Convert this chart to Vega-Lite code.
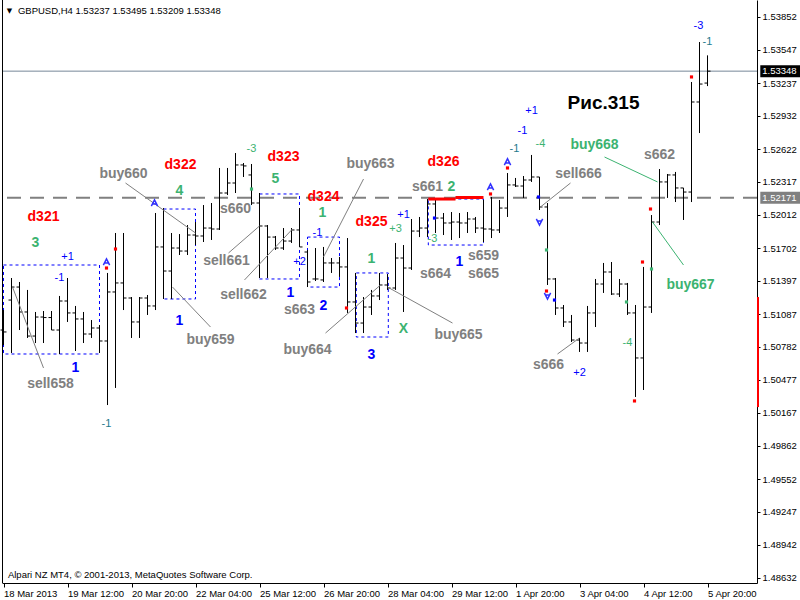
{
  "$schema": "https://vega.github.io/schema/vega-lite/v6.json",
  "width": 755,
  "height": 583,
  "autosize": {"type": "none"},
  "padding": {"left": 2, "top": 0, "right": 43, "bottom": 17},
  "background": "white",
  "config": {"view": {"stroke": null}, "font": "Liberation Sans"},
  "resolve": {"axis": {"x": "independent", "y": "independent"}},
  "datasets": {
    "bars": [
      {"i":0,"o":1.50939,"h":1.51125,"l":1.50800,"c":1.50921},
      {"i":1,"o":1.51218,"h":1.51423,"l":1.50725,"c":1.51339},
      {"i":2,"o":1.51339,"h":1.51386,"l":1.50939,"c":1.51107},
      {"i":3,"o":1.51107,"h":1.51312,"l":1.50865,"c":1.50883},
      {"i":4,"o":1.50883,"h":1.51107,"l":1.50818,"c":1.51060},
      {"i":5,"o":1.51060,"h":1.51116,"l":1.50818,"c":1.51055},
      {"i":6,"o":1.51055,"h":1.51116,"l":1.50939,"c":1.50939},
      {"i":7,"o":1.50939,"h":1.51256,"l":1.50716,"c":1.51209},
      {"i":8,"o":1.51209,"h":1.51423,"l":1.51014,"c":1.51098},
      {"i":9,"o":1.51098,"h":1.51163,"l":1.50744,"c":1.51042},
      {"i":10,"o":1.51042,"h":1.51107,"l":1.50818,"c":1.50902},
      {"i":11,"o":1.50902,"h":1.51032,"l":1.50865,"c":1.50958},
      {"i":12,"o":1.50958,"h":1.50986,"l":1.50725,"c":1.50837},
      {"i":13,"o":1.50837,"h":1.51470,"l":1.50241,"c":1.51293},
      {"i":14,"o":1.51293,"h":1.51842,"l":1.50400,"c":1.51377},
      {"i":15,"o":1.51377,"h":1.51842,"l":1.51125,"c":1.51237},
      {"i":16,"o":1.51237,"h":1.51246,"l":1.50865,"c":1.51014},
      {"i":17,"o":1.51014,"h":1.51246,"l":1.50865,"c":1.51237},
      {"i":18,"o":1.51237,"h":1.51265,"l":1.51079,"c":1.51163},
      {"i":19,"o":1.51163,"h":1.52028,"l":1.51125,"c":1.51712},
      {"i":20,"o":1.51712,"h":1.52074,"l":1.51228,"c":1.51488},
      {"i":21,"o":1.51488,"h":1.51842,"l":1.51228,"c":1.51702},
      {"i":22,"o":1.51702,"h":1.51832,"l":1.51637,"c":1.51674},
      {"i":23,"o":1.51674,"h":1.51916,"l":1.51637,"c":1.51823},
      {"i":24,"o":1.51823,"h":1.51944,"l":1.51730,"c":1.51814},
      {"i":25,"o":1.51814,"h":1.52102,"l":1.51758,"c":1.51888},
      {"i":26,"o":1.51888,"h":1.52121,"l":1.51777,"c":1.51879},
      {"i":27,"o":1.51879,"h":1.52447,"l":1.51870,"c":1.52214},
      {"i":28,"o":1.52214,"h":1.52447,"l":1.52195,"c":1.52307},
      {"i":29,"o":1.52307,"h":1.52586,"l":1.52214,"c":1.52475},
      {"i":30,"o":1.52475,"h":1.52493,"l":1.52363,"c":1.52466},
      {"i":31,"o":1.52382,"h":1.52484,"l":1.52102,"c":1.52121},
      {"i":32,"o":1.52121,"h":1.52214,"l":1.51423,"c":1.51907},
      {"i":33,"o":1.51907,"h":1.51916,"l":1.51423,"c":1.51804},
      {"i":34,"o":1.51804,"h":1.51814,"l":1.51684,"c":1.51702},
      {"i":35,"o":1.51702,"h":1.51888,"l":1.51684,"c":1.51767},
      {"i":36,"o":1.51767,"h":1.51888,"l":1.51749,"c":1.51870},
      {"i":37,"o":1.51870,"h":1.52074,"l":1.51712,"c":1.51712},
      {"i":38,"o":1.51665,"h":1.51684,"l":1.51339,"c":1.51386},
      {"i":39,"o":1.51414,"h":1.51702,"l":1.51395,"c":1.51414},
      {"i":40,"o":1.51405,"h":1.51712,"l":1.51386,"c":1.51563},
      {"i":41,"o":1.51563,"h":1.51609,"l":1.51470,"c":1.51563},
      {"i":42,"o":1.51563,"h":1.51619,"l":1.51433,"c":1.51526},
      {"i":43,"o":1.51526,"h":1.51795,"l":1.51098,"c":1.51200},
      {"i":44,"o":1.51200,"h":1.51470,"l":1.50911,"c":1.51004},
      {"i":45,"o":1.51004,"h":1.51246,"l":1.50911,"c":1.51153},
      {"i":46,"o":1.51153,"h":1.51312,"l":1.51079,"c":1.51256},
      {"i":47,"o":1.51256,"h":1.51470,"l":1.51218,"c":1.51358},
      {"i":48,"o":1.51358,"h":1.51460,"l":1.51312,"c":1.51330},
      {"i":49,"o":1.51330,"h":1.51749,"l":1.51312,"c":1.51609},
      {"i":50,"o":1.51609,"h":1.51730,"l":1.51107,"c":1.51516},
      {"i":51,"o":1.51516,"h":1.51972,"l":1.51498,"c":1.51860},
      {"i":52,"o":1.51860,"h":1.51991,"l":1.51804,"c":1.51888},
      {"i":53,"o":1.51888,"h":1.52158,"l":1.51804,"c":1.52112},
      {"i":54,"o":1.52112,"h":1.52158,"l":1.51842,"c":1.51981},
      {"i":55,"o":1.51981,"h":1.52028,"l":1.51823,"c":1.51935},
      {"i":56,"o":1.51935,"h":1.52037,"l":1.51777,"c":1.51944},
      {"i":57,"o":1.51944,"h":1.52028,"l":1.51795,"c":1.51935},
      {"i":58,"o":1.51935,"h":1.52037,"l":1.51842,"c":1.51972},
      {"i":59,"o":1.51972,"h":1.51991,"l":1.51842,"c":1.51888},
      {"i":60,"o":1.51888,"h":1.52149,"l":1.51758,"c":1.51879},
      {"i":61,"o":1.51879,"h":1.52177,"l":1.51795,"c":1.51870},
      {"i":62,"o":1.51870,"h":1.52149,"l":1.51842,"c":1.52074},
      {"i":63,"o":1.52074,"h":1.52400,"l":1.51991,"c":1.52289},
      {"i":64,"o":1.52289,"h":1.52354,"l":1.52270,"c":1.52279},
      {"i":65,"o":1.52279,"h":1.52372,"l":1.52168,"c":1.52335},
      {"i":66,"o":1.52335,"h":1.52568,"l":1.52317,"c":1.52363},
      {"i":67,"o":1.52363,"h":1.52363,"l":1.52056,"c":1.52084},
      {"i":68,"o":1.52084,"h":1.52121,"l":1.51358,"c":1.51414},
      {"i":69,"o":1.51414,"h":1.51423,"l":1.51079,"c":1.51144},
      {"i":70,"o":1.51144,"h":1.51172,"l":1.50967,"c":1.51014},
      {"i":71,"o":1.51014,"h":1.51079,"l":1.50828,"c":1.50846},
      {"i":72,"o":1.50846,"h":1.50865,"l":1.50735,"c":1.50818},
      {"i":73,"o":1.50818,"h":1.51163,"l":1.50735,"c":1.51098},
      {"i":74,"o":1.51098,"h":1.51414,"l":1.50967,"c":1.51367},
      {"i":75,"o":1.51367,"h":1.51563,"l":1.51284,"c":1.51479},
      {"i":76,"o":1.51479,"h":1.51572,"l":1.51265,"c":1.51274},
      {"i":77,"o":1.51274,"h":1.51414,"l":1.51246,"c":1.51367},
      {"i":78,"o":1.51367,"h":1.51377,"l":1.51079,"c":1.51098},
      {"i":79,"o":1.51098,"h":1.51172,"l":1.50316,"c":1.50679},
      {"i":80,"o":1.50679,"h":1.51526,"l":1.50381,"c":1.51153},
      {"i":81,"o":1.51153,"h":1.52009,"l":1.51098,"c":1.51944},
      {"i":82,"o":1.51944,"h":1.52437,"l":1.51916,"c":1.52317},
      {"i":83,"o":1.52317,"h":1.52391,"l":1.52168,"c":1.52382},
      {"i":84,"o":1.52382,"h":1.52410,"l":1.52130,"c":1.52261},
      {"i":85,"o":1.52261,"h":1.52261,"l":1.51963,"c":1.52223},
      {"i":86,"o":1.52223,"h":1.53247,"l":1.52130,"c":1.53061},
      {"i":87,"o":1.53061,"h":1.53619,"l":1.52772,"c":1.53228},
      {"i":88,"o":1.53237,"h":1.53495,"l":1.53209,"c":1.53348}
    ],
    "big": [
      {"i":5,"p":1.51991,"t":"d321","k":"red"},
      {"i":22.125,"p":1.52475,"t":"d322","k":"red"},
      {"i":35,"p":1.52549,"t":"d323","k":"red"},
      {"i":40,"p":1.52177,"t":"d324","k":"red"},
      {"i":46,"p":1.51944,"t":"d325","k":"red"},
      {"i":55,"p":1.52503,"t":"d326","k":"red"},
      {"i":4,"p":1.51749,"t":"3","k":"green"},
      {"i":22,"p":1.52233,"t":"4","k":"green"},
      {"i":34,"p":1.52344,"t":"5","k":"green"},
      {"i":39.875,"p":1.52028,"t":"1","k":"green"},
      {"i":46,"p":1.51600,"t":"1","k":"green"},
      {"i":56,"p":1.52270,"t":"2","k":"green"},
      {"i":50,"p":1.50949,"t":"X","k":"green"},
      {"i":9,"p":1.50586,"t":"1","k":"blue"},
      {"i":22,"p":1.51023,"t":"1","k":"blue"},
      {"i":35.875,"p":1.51284,"t":"1","k":"blue"},
      {"i":40,"p":1.51163,"t":"2","k":"blue"},
      {"i":46,"p":1.50707,"t":"3","k":"blue"},
      {"i":57,"p":1.51572,"t":"1","k":"blue"},
      {"i":5.875,"p":1.50437,"t":"sell658","k":"grey"},
      {"i":25.875,"p":1.50846,"t":"buy659","k":"grey"},
      {"i":15,"p":1.52391,"t":"buy660","k":"grey"},
      {"i":29,"p":1.52065,"t":"s660","k":"grey"},
      {"i":27.875,"p":1.51581,"t":"sell661","k":"grey"},
      {"i":30,"p":1.51265,"t":"sell662","k":"grey"},
      {"i":45.875,"p":1.52484,"t":"buy663","k":"grey"},
      {"i":37,"p":1.51125,"t":"s663","k":"grey"},
      {"i":38,"p":1.50753,"t":"buy664","k":"grey"},
      {"i":56.875,"p":1.50893,"t":"buy665","k":"grey"},
      {"i":53,"p":1.52270,"t":"s661","k":"grey"},
      {"i":54,"p":1.51460,"t":"s664","k":"grey"},
      {"i":60,"p":1.51628,"t":"s659","k":"grey"},
      {"i":60,"p":1.51460,"t":"s665","k":"grey"},
      {"i":71.875,"p":1.52391,"t":"sell666","k":"grey"},
      {"i":68.125,"p":1.50614,"t":"s666","k":"grey"},
      {"i":82,"p":1.52568,"t":"s662","k":"grey"},
      {"i":73.875,"p":1.52661,"t":"buy668","k":"sea"},
      {"i":85.875,"p":1.51358,"t":"buy667","k":"sea"}
    ],
    "small": [
      {"i":8,"p":1.51619,"t":"+1","k":"blue"},
      {"i":7,"p":1.51423,"t":"-1","k":"blue"},
      {"i":12.875,"p":1.50065,"t":"-1","k":"teal"},
      {"i":31,"p":1.52624,"t":"-3","k":"green"},
      {"i":39.25,"p":1.51842,"t":"-1","k":"blue"},
      {"i":37,"p":1.51572,"t":"+2","k":"blue"},
      {"i":50,"p":1.52009,"t":"+1","k":"blue"},
      {"i":49,"p":1.51879,"t":"+3","k":"green"},
      {"i":53.625,"p":1.51786,"t":"-3","k":"green"},
      {"i":66,"p":1.52977,"t":"+1","k":"blue"},
      {"i":64.875,"p":1.52791,"t":"-1","k":"blue"},
      {"i":63.875,"p":1.52624,"t":"-1","k":"teal"},
      {"i":67.125,"p":1.52670,"t":"-4","k":"green"},
      {"i":72,"p":1.50539,"t":"+2","k":"blue"},
      {"i":78,"p":1.50818,"t":"-4","k":"green"},
      {"i":86.875,"p":1.53768,"t":"-3","k":"blue"},
      {"i":88,"p":1.53619,"t":"-1","k":"teal"}
    ],
    "links": [
      {"i1":1.125,"p1":1.51339,"i2":5,"p2":1.50586,"k":"grey"},
      {"i1":21.125,"p1":1.51339,"i2":25.875,"p2":1.50967,"k":"grey"},
      {"i1":15.25,"p1":1.52307,"i2":24,"p2":1.51842,"k":"grey"},
      {"i1":28.125,"p1":1.51656,"i2":32,"p2":1.51907,"k":"grey"},
      {"i1":30.125,"p1":1.51405,"i2":36.125,"p2":1.51879,"k":"grey"},
      {"i1":45,"p1":1.52344,"i2":40,"p2":1.51619,"k":"grey"},
      {"i1":40.25,"p1":1.50911,"i2":47.125,"p2":1.51358,"k":"grey"},
      {"i1":48,"p1":1.51339,"i2":56.125,"p2":1.51004,"k":"grey"},
      {"i1":70.875,"p1":1.52307,"i2":67.125,"p2":1.52084,"k":"grey"},
      {"i1":69.25,"p1":1.50716,"i2":72,"p2":1.50865,"k":"grey"},
      {"i1":75.125,"p1":1.52549,"i2":81.75,"p2":1.52317,"k":"sea"},
      {"i1":81.125,"p1":1.51944,"i2":85,"p2":1.51544,"k":"sea"}
    ],
    "boxes": [
      {"i1":0,"i2":12,"p1":1.51544,"p2":1.50716},
      {"i1":20,"i2":24,"p1":1.52065,"p2":1.51228},
      {"i1":32,"i2":37,"p1":1.52205,"p2":1.51414},
      {"i1":38,"i2":42,"p1":1.51804,"p2":1.51339},
      {"i1":44.1,"i2":48.1,"p1":1.51470,"p2":1.50874},
      {"i1":53.1,"i2":60,"p1":1.52158,"p2":1.51730}
    ],
    "redline": [
      {"i1":53.1,"i2":56.5,"p":1.52158},
      {"i1":56.5,"i2":60,"p":1.52172}
    ],
    "dots": [
      {"i":14,"p":1.51693,"k":"red"},
      {"i":12.875,"p":1.51516,"k":"red"},
      {"i":42.875,"p":1.51144,"k":"red"},
      {"i":60.875,"p":1.52205,"k":"red"},
      {"i":63,"p":1.52447,"k":"red"},
      {"i":67.875,"p":1.51302,"k":"red"},
      {"i":79.875,"p":1.51572,"k":"red"},
      {"i":78.875,"p":1.50279,"k":"red"},
      {"i":80.875,"p":1.52065,"k":"red"},
      {"i":86,"p":1.53294,"k":"red"},
      {"i":53.875,"p":1.51981,"k":"blue"},
      {"i":66.875,"p":1.52177,"k":"blue"},
      {"i":68.875,"p":1.51218,"k":"blue"},
      {"i":31,"p":1.52251,"k":"green"},
      {"i":67.875,"p":1.51684,"k":"green"},
      {"i":77.875,"p":1.51200,"k":"green"},
      {"i":81,"p":1.51507,"k":"green"}
    ],
    "arrows": [
      {"i":12.875,"p":1.51572,"d":"up"},
      {"i":18.875,"p":1.52121,"d":"up"},
      {"i":60.875,"p":1.52270,"d":"up"},
      {"i":63,"p":1.52503,"d":"up"},
      {"i":67,"p":1.51944,"d":"down"},
      {"i":68,"p":1.51256,"d":"down"}
    ],
    "last": [{"p":1.53348,"t":"1.53348"}],
    "level": [{"p":1.52171,"t":"1.52171"}],
    "range": [{"p1":1.51246,"p2":1.50222}]
  },
  "layer": [
    {
      "data": {"name": "level"},
      "mark": {"type": "rule", "color": "#808080", "strokeWidth": 2, "strokeDash": [14, 9]},
      "encoding": {
        "y": {"field": "p", "type": "quantitative", "scale": {"domain": [1.48585, 1.5401], "nice": false, "zero": false}, "axis": null}
      }
    },
    {
      "data": {"name": "last"},
      "mark": {"type": "rule", "color": "#778899", "strokeWidth": 1},
      "encoding": {
        "y": {"field": "p", "type": "quantitative", "scale": {"domain": [1.48585, 1.5401], "nice": false, "zero": false}, "axis": null}
      }
    },
    {
      "data": {"name": "boxes"},
      "mark": {"type": "rect", "fill": null, "fillOpacity": 0, "stroke": "#0000FF", "strokeWidth": 1, "strokeDash": [3, 3]},
      "encoding": {
        "x": {"field": "i1", "type": "quantitative", "scale": {"domain": [-0.1875, 94.1875], "nice": false, "zero": false}, "axis": null},
        "x2": {"field": "i2"},
        "y": {"field": "p1", "type": "quantitative", "scale": {"domain": [1.48585, 1.5401], "nice": false, "zero": false}, "axis": null},
        "y2": {"field": "p2"}
      }
    },
    {
      "data": {"name": "bars"},
      "mark": {"type": "rule", "color": "#000000", "strokeWidth": 1},
      "encoding": {
        "x": {
          "field": "i", "type": "quantitative",
          "scale": {"domain": [-0.1875, 94.1875], "nice": false, "zero": false},
          "axis": {
            "orient": "bottom", "title": null, "grid": false,
            "values": [0, 8, 16, 24, 32, 40, 48, 56, 64, 72, 80, 88],
            "labelExpr": "['18 Mar 2013','19 Mar 12:00','20 Mar 20:00','22 Mar 04:00','25 Mar 12:00','26 Mar 20:00','28 Mar 04:00','29 Mar 12:00','1 Apr 20:00','3 Apr 04:00','4 Apr 12:00','5 Apr 20:00'][round(datum.value/8)]",
            "domainColor": "#000000", "tickColor": "#000000", "tickSize": 4,
            "labelAlign": "left", "labelBaseline": "top", "labelPadding": 1, "labelOffset": 0,
            "labelFont": "Liberation Sans", "labelFontSize": 9.5, "labelColor": "#000000",
            "labelOverlap": false, "labelBound": false, "labelFlush": false
          }
        },
        "y": {
          "field": "h", "type": "quantitative",
          "scale": {"domain": [1.48585, 1.5401], "nice": false, "zero": false},
          "axis": {
            "orient": "right", "title": null, "grid": false,
            "values": [1.53852, 1.53547, 1.53237, 1.52932, 1.52622, 1.52317, 1.52012, 1.51702, 1.51397, 1.51087, 1.50782, 1.50477, 1.50167, 1.49862, 1.49552, 1.49247, 1.48942, 1.48632],
            "format": ".5f",
            "domainColor": "#000000", "tickColor": "#000000", "tickSize": 3, "labelPadding": 2,
            "labelFont": "Liberation Sans", "labelFontSize": 9.5, "labelColor": "#000000",
            "labelOverlap": false, "labelBound": false, "labelFlush": false
          }
        },
        "y2": {"field": "l"}
      }
    },
    {
      "data": {"name": "bars"},
      "mark": {"type": "rule", "color": "#000000", "strokeWidth": 1, "xOffset": -3, "x2Offset": 0},
      "encoding": {
        "x": {"field": "i", "type": "quantitative", "scale": {"domain": [-0.1875, 94.1875], "nice": false, "zero": false}, "axis": null},
        "x2": {"field": "i"},
        "y": {"field": "o", "type": "quantitative", "scale": {"domain": [1.48585, 1.5401], "nice": false, "zero": false}, "axis": null}
      }
    },
    {
      "data": {"name": "bars"},
      "mark": {"type": "rule", "color": "#000000", "strokeWidth": 1, "xOffset": 0, "x2Offset": 3},
      "encoding": {
        "x": {"field": "i", "type": "quantitative", "scale": {"domain": [-0.1875, 94.1875], "nice": false, "zero": false}, "axis": null},
        "x2": {"field": "i"},
        "y": {"field": "c", "type": "quantitative", "scale": {"domain": [1.48585, 1.5401], "nice": false, "zero": false}, "axis": null}
      }
    },
    {
      "data": {"name": "links"},
      "mark": {"type": "rule", "strokeWidth": 1},
      "encoding": {
        "x": {"field": "i1", "type": "quantitative", "scale": {"domain": [-0.1875, 94.1875], "nice": false, "zero": false}, "axis": null},
        "x2": {"field": "i2"},
        "y": {"field": "p1", "type": "quantitative", "scale": {"domain": [1.48585, 1.5401], "nice": false, "zero": false}, "axis": null},
        "y2": {"field": "p2"},
        "color": {"field": "k", "type": "nominal", "legend": null, "scale": {"domain": ["red", "green", "blue", "grey", "sea", "teal"], "range": ["#FF0000", "#3CB371", "#0000FF", "#808080", "#3CB371", "#1F7A8C"]}}
      }
    },
    {
      "data": {"name": "redline"},
      "mark": {"type": "rule", "color": "#FF0000", "strokeWidth": 3},
      "encoding": {
        "x": {"field": "i1", "type": "quantitative", "scale": {"domain": [-0.1875, 94.1875], "nice": false, "zero": false}, "axis": null},
        "x2": {"field": "i2"},
        "y": {"field": "p", "type": "quantitative", "scale": {"domain": [1.48585, 1.5401], "nice": false, "zero": false}, "axis": null}
      }
    },
    {
      "data": {"name": "dots"},
      "mark": {"type": "square", "size": 10, "filled": true, "opacity": 1},
      "encoding": {
        "x": {"field": "i", "type": "quantitative", "scale": {"domain": [-0.1875, 94.1875], "nice": false, "zero": false}, "axis": null},
        "y": {"field": "p", "type": "quantitative", "scale": {"domain": [1.48585, 1.5401], "nice": false, "zero": false}, "axis": null},
        "color": {"field": "k", "type": "nominal", "legend": null, "scale": {"domain": ["red", "green", "blue", "grey", "sea", "teal"], "range": ["#FF0000", "#3CB371", "#0000FF", "#808080", "#3CB371", "#1F7A8C"]}}
      }
    },
    {
      "data": {"name": "arrows"},
      "mark": {"type": "point", "filled": false, "size": 40, "strokeWidth": 1.5, "color": "#3030FF", "opacity": 1},
      "encoding": {
        "x": {"field": "i", "type": "quantitative", "scale": {"domain": [-0.1875, 94.1875], "nice": false, "zero": false}, "axis": null},
        "y": {"field": "p", "type": "quantitative", "scale": {"domain": [1.48585, 1.5401], "nice": false, "zero": false}, "axis": null},
        "shape": {"field": "d", "type": "nominal", "legend": null, "scale": {"domain": ["up", "down"], "range": ["M-1,1L0,-1L1,1M-0.5,0.3L0.5,0.3", "M-1,-1L0,1L1,-1M-0.5,-0.3L0.5,-0.3"]}}
      }
    },
    {
      "data": {"name": "big"},
      "mark": {"type": "text", "font": "Liberation Sans", "fontSize": 14, "fontWeight": "bold", "align": "center", "baseline": "middle"},
      "encoding": {
        "x": {"field": "i", "type": "quantitative", "scale": {"domain": [-0.1875, 94.1875], "nice": false, "zero": false}, "axis": null},
        "y": {"field": "p", "type": "quantitative", "scale": {"domain": [1.48585, 1.5401], "nice": false, "zero": false}, "axis": null},
        "text": {"field": "t"},
        "color": {"field": "k", "type": "nominal", "legend": null, "scale": {"domain": ["red", "green", "blue", "grey", "sea", "teal"], "range": ["#FF0000", "#3CB371", "#0000FF", "#808080", "#3CB371", "#1F7A8C"]}}
      }
    },
    {
      "data": {"name": "small"},
      "mark": {"type": "text", "font": "Liberation Sans", "fontSize": 11, "align": "center", "baseline": "middle"},
      "encoding": {
        "x": {"field": "i", "type": "quantitative", "scale": {"domain": [-0.1875, 94.1875], "nice": false, "zero": false}, "axis": null},
        "y": {"field": "p", "type": "quantitative", "scale": {"domain": [1.48585, 1.5401], "nice": false, "zero": false}, "axis": null},
        "text": {"field": "t"},
        "color": {"field": "k", "type": "nominal", "legend": null, "scale": {"domain": ["red", "green", "blue", "grey", "sea", "teal"], "range": ["#FF0000", "#3CB371", "#0000FF", "#808080", "#3CB371", "#1F7A8C"]}}
      }
    },
    {
      "data": {"values": [{"t": "Рис.315"}]},
      "mark": {"type": "text", "font": "Liberation Sans", "fontSize": 19, "fontWeight": "bold", "align": "center", "baseline": "middle", "color": "#000000"},
      "encoding": {
        "x": {"datum": 75, "type": "quantitative", "scale": {"domain": [-0.1875, 94.1875], "nice": false, "zero": false}, "axis": null},
        "y": {"datum": 1.53052, "type": "quantitative", "scale": {"domain": [1.48585, 1.5401], "nice": false, "zero": false}, "axis": null},
        "text": {"field": "t"}
      }
    },
    {
      "data": {"values": [{"t": "GBPUSD,H4  1.53237 1.53495 1.53209 1.53348"}]},
      "mark": {"type": "text", "font": "Liberation Sans", "fontSize": 9.5, "align": "left", "baseline": "middle", "color": "#000000"},
      "encoding": {
        "x": {"datum": 1.8, "type": "quantitative", "scale": {"domain": [-0.1875, 94.1875], "nice": false, "zero": false}, "axis": null},
        "y": {"datum": 1.53908, "type": "quantitative", "scale": {"domain": [1.48585, 1.5401], "nice": false, "zero": false}, "axis": null},
        "text": {"field": "t"}
      }
    },
    {
      "data": {"values": [{"t": "▼"}]},
      "mark": {"type": "text", "font": "DejaVu Sans", "fontSize": 7, "align": "center", "baseline": "middle", "color": "#000000"},
      "encoding": {
        "x": {"datum": 0.75, "type": "quantitative", "scale": {"domain": [-0.1875, 94.1875], "nice": false, "zero": false}, "axis": null},
        "y": {"datum": 1.53908, "type": "quantitative", "scale": {"domain": [1.48585, 1.5401], "nice": false, "zero": false}, "axis": null},
        "text": {"field": "t"}
      }
    },
    {
      "data": {"values": [{"t": "Alpari NZ MT4, © 2001-2013, MetaQuotes Software Corp."}]},
      "mark": {"type": "text", "font": "Liberation Sans", "fontSize": 9.5, "align": "left", "baseline": "middle", "color": "#000000"},
      "encoding": {
        "x": {"datum": 0.55, "type": "quantitative", "scale": {"domain": [-0.1875, 94.1875], "nice": false, "zero": false}, "axis": null},
        "y": {"datum": 1.4866, "type": "quantitative", "scale": {"domain": [1.48585, 1.5401], "nice": false, "zero": false}, "axis": null},
        "text": {"field": "t"}
      }
    },
    {
      "data": {"values": [{}]},
      "mark": {"type": "rule", "color": "#000000", "strokeWidth": 1},
      "encoding": {
        "x": {"datum": -0.125, "type": "quantitative", "scale": {"domain": [-0.1875, 94.1875], "nice": false, "zero": false}, "axis": null}
      }
    },
    {
      "data": {"name": "range"},
      "mark": {"type": "rect", "color": "#FF0000"},
      "encoding": {
        "x": {"datum": 94.19, "type": "quantitative", "scale": {"domain": [-0.1875, 94.1875], "nice": false, "zero": false}, "axis": null},
        "x2": {"datum": 94.44},
        "y": {"field": "p1", "type": "quantitative", "scale": {"domain": [1.48585, 1.5401], "nice": false, "zero": false}, "axis": null},
        "y2": {"field": "p2"}
      }
    },
    {
      "data": {"name": "last"},
      "mark": {"type": "rect", "color": "#000000", "yOffset": -6, "y2Offset": 6},
      "encoding": {
        "x": {"datum": 94.6, "type": "quantitative", "scale": {"domain": [-0.1875, 94.1875], "nice": false, "zero": false}, "axis": null},
        "x2": {"datum": 99.7},
        "y": {"field": "p", "type": "quantitative", "scale": {"domain": [1.48585, 1.5401], "nice": false, "zero": false}, "axis": null},
        "y2": {"field": "p"}
      }
    },
    {
      "data": {"name": "level"},
      "mark": {"type": "rect", "color": "#808080", "yOffset": -6, "y2Offset": 6},
      "encoding": {
        "x": {"datum": 94.6, "type": "quantitative", "scale": {"domain": [-0.1875, 94.1875], "nice": false, "zero": false}, "axis": null},
        "x2": {"datum": 99.7},
        "y": {"field": "p", "type": "quantitative", "scale": {"domain": [1.48585, 1.5401], "nice": false, "zero": false}, "axis": null},
        "y2": {"field": "p"}
      }
    },
    {
      "data": {"name": "last"},
      "mark": {"type": "text", "font": "Liberation Sans", "fontSize": 9.5, "align": "left", "baseline": "middle", "color": "#FFFFFF"},
      "encoding": {
        "x": {"datum": 94.85, "type": "quantitative", "scale": {"domain": [-0.1875, 94.1875], "nice": false, "zero": false}, "axis": null},
        "y": {"field": "p", "type": "quantitative", "scale": {"domain": [1.48585, 1.5401], "nice": false, "zero": false}, "axis": null},
        "text": {"field": "t"}
      }
    },
    {
      "data": {"name": "level"},
      "mark": {"type": "text", "font": "Liberation Sans", "fontSize": 9.5, "align": "left", "baseline": "middle", "color": "#FFFFFF"},
      "encoding": {
        "x": {"datum": 94.85, "type": "quantitative", "scale": {"domain": [-0.1875, 94.1875], "nice": false, "zero": false}, "axis": null},
        "y": {"field": "p", "type": "quantitative", "scale": {"domain": [1.48585, 1.5401], "nice": false, "zero": false}, "axis": null},
        "text": {"field": "t"}
      }
    }
  ]
}
